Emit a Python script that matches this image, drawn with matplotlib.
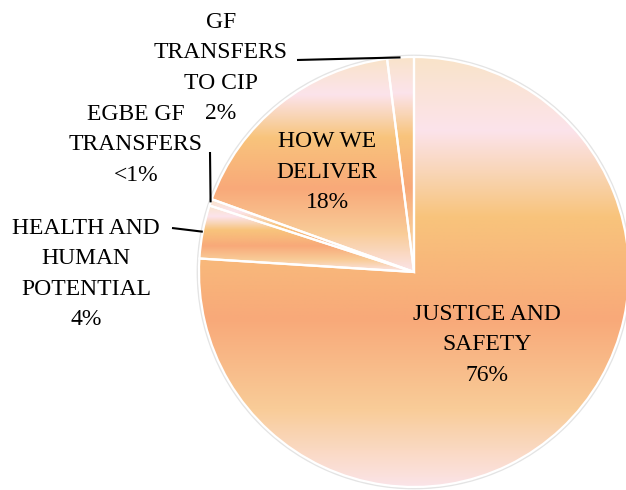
import numpy as np
import matplotlib
matplotlib.use("Agg")
import matplotlib.pyplot as plt
from matplotlib.colors import LinearSegmentedColormap

# slice data, clockwise from 12 o'clock
categories = ["JUSTICE AND\nSAFETY", "HEALTH AND\nHUMAN\nPOTENTIAL", "EGBE GF\nTRANSFERS",
              "HOW WE\nDELIVER", "GF\nTRANSFERS\nTO CIP"]
shares = [76, 4, 0.5, 17.5, 2]
pct_labels = ["76%", "4%", "<1%", "18%", "2%"]

# "peach" gradient used for every slice (top -> bottom)
peach_stops = [(0.0, "#F9E4C9"), (0.17, "#FCE3EB"), (0.27, "#F9D5B5"), (0.37, "#F8C47C"),
               (0.61, "#F8A979"), (0.82, "#F9CC98"), (1.0, "#FBE4E8")]
peach = LinearSegmentedColormap.from_list("peach", peach_stops)

W, H = 626, 490
fig = plt.figure(figsize=(W / 100, H / 100), dpi=100)
ax = fig.add_axes([0, 0, 1, 1])

cx, cy, r = 414, 218, 215

# faint outer rim
rim = plt.Circle((cx, cy), r + 1, fc="none", ec="#E4E4E4", lw=2.0, zorder=1)
ax.add_patch(rim)

wedges, _ = ax.pie(shares, startangle=90, counterclock=False, center=(cx, cy), radius=r,
                   wedgeprops=dict(fc="none", ec="white", lw=1.6, zorder=3))

grad = np.linspace(0, 1, 256).reshape(-1, 1)
for w in wedges:
    bb = w.get_path().get_extents(w.get_patch_transform())
    im = ax.imshow(grad, cmap=peach, extent=[bb.x0, bb.x1, bb.y0, bb.y1], origin="upper",
                   aspect="auto", interpolation="bilinear", zorder=2)
    im.set_clip_path(w)

font = dict(family="Liberation Serif", size=17, color="black", ha="center", va="center",
            linespacing=1.6)

# label text positions (figure pixels, y down)
label_pos = [(487, 345), (86, 274), (136, 145), (327, 172), (221, 68)]
# leader line start points for outside labels (None = inside label)
leader_start = [None, (172, 228), (210, 152), None, (297, 60)]

for w, cat, pct, (lx, ly), ls in zip(wedges, categories, pct_labels, label_pos, leader_start):
    ax.text(lx, H - ly, cat + "\n" + pct, zorder=5, **font)
    if ls is not None:
        mid = np.deg2rad((w.theta1 + w.theta2) / 2)
        ex, ey = cx + r * np.cos(mid), cy + r * np.sin(mid)
        ax.plot([ls[0], ex], [H - ls[1], ey], color="black", lw=1.5, zorder=4,
                solid_capstyle="butt")

ax.set_xlim(0, W)
ax.set_ylim(0, H)
ax.set_aspect("auto")
ax.axis("off")

fig.savefig("out.png", dpi=100)
